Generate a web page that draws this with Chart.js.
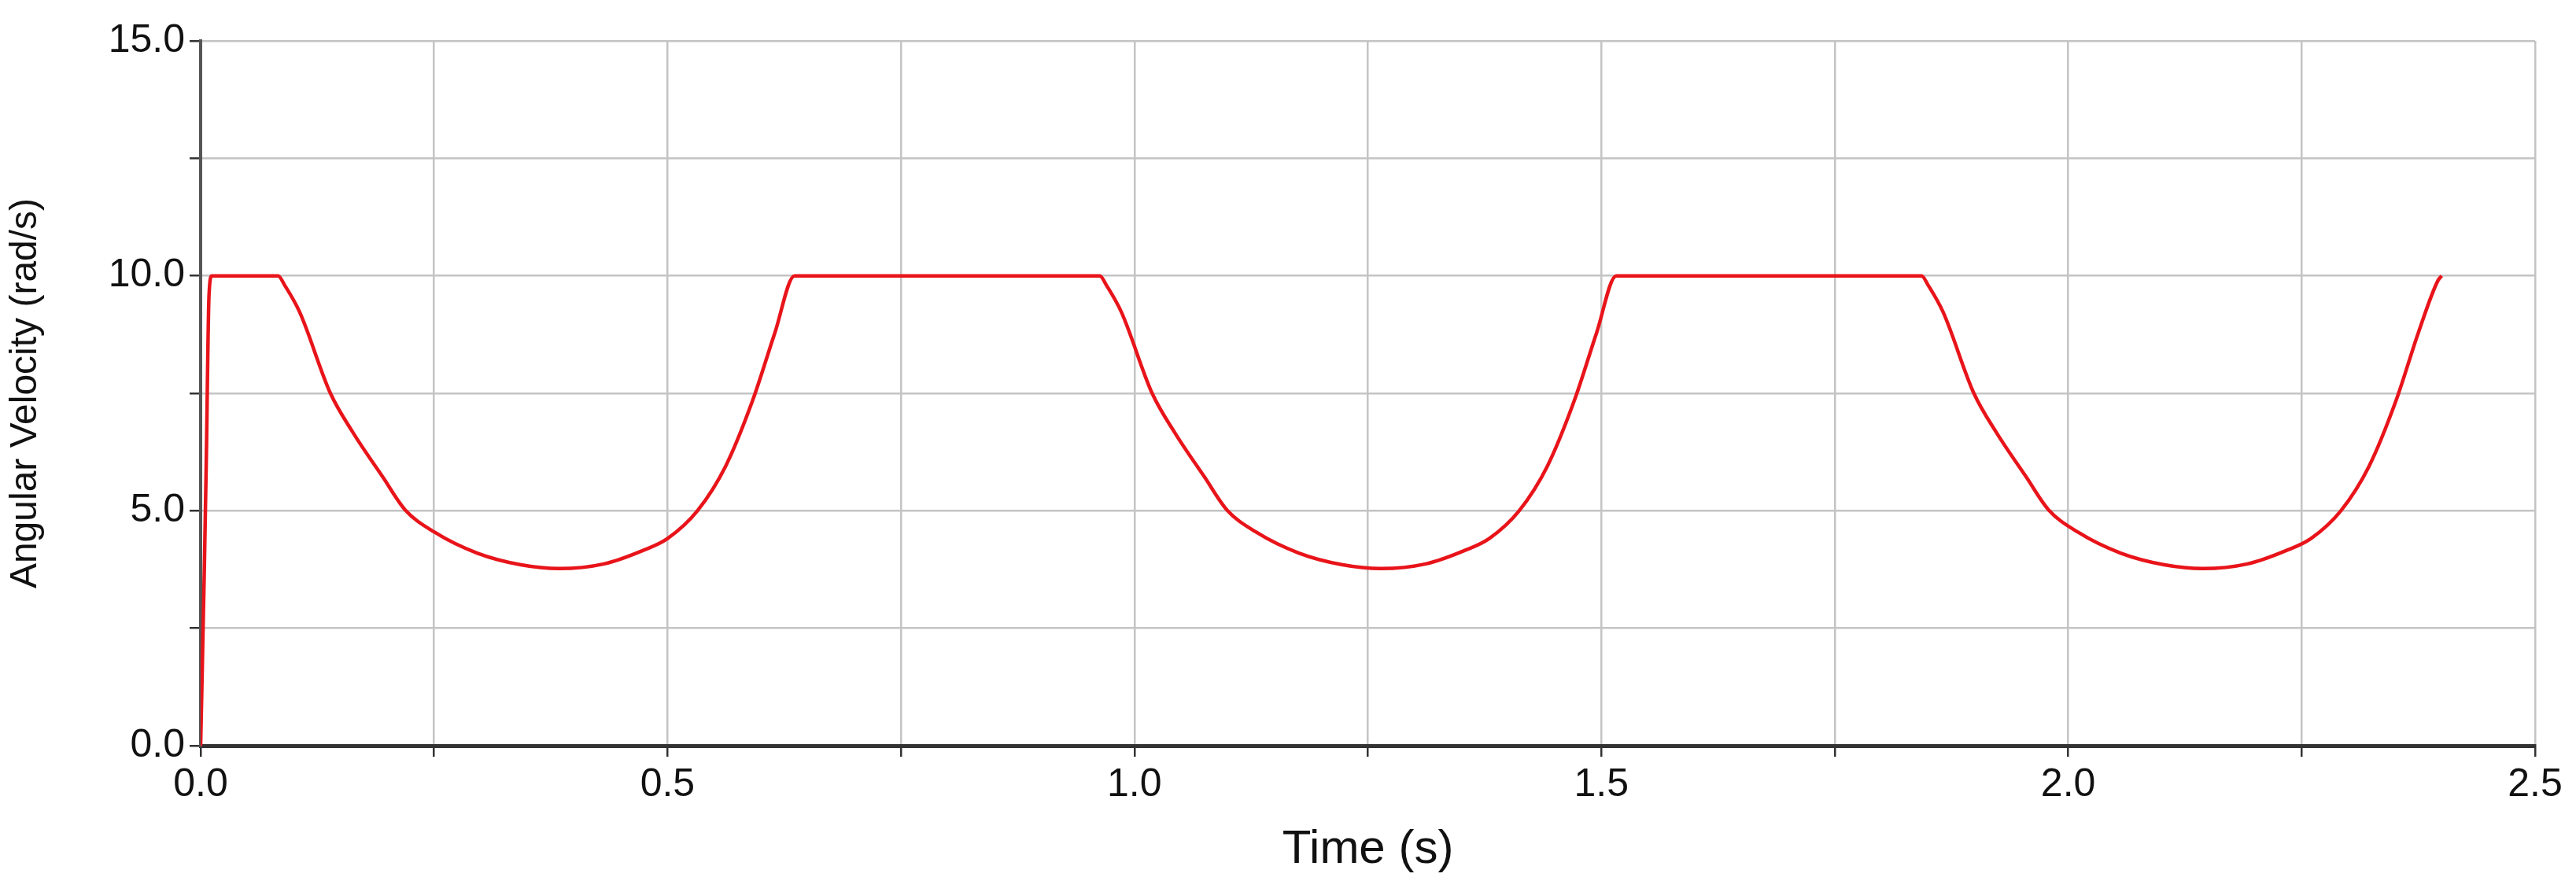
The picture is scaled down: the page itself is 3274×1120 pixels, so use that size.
<!DOCTYPE html>
<html><head><meta charset="utf-8">
<script src="https://cdn.jsdelivr.net/npm/chart.js@4"></script>
<style>html,body{margin:0;padding:0;background:#fff}#w{width:3274px;height:1120px}</style>
</head><body><div id="w"><canvas id="c"></canvas></div>
<script>
const times = [0,0.004,0.006,0.009,0.012,0.083,0.090,0.106,0.139,0.163,0.195,0.219,0.25,0.296,0.343,0.384,0.432,0.473,0.5,0.532,0.562,0.591,0.615,0.636,
0.963,0.970,0.986,1.019,1.043,1.075,1.099,1.13,1.176,1.223,1.264,1.312,1.353,1.38,1.412,1.442,1.471,1.495,1.516,
1.843,1.850,1.866,1.899,1.923,1.955,1.979,2.01,2.056,2.103,2.144,2.192,2.233,2.26,2.292,2.322,2.351,2.375,2.396,2.40];
const omega = [0,3.8,6.0,9.6,10,10,9.8,9.23,7.5,6.67,5.72,5.02,4.55,4.10,3.85,3.77,3.87,4.15,4.41,5.0,5.94,7.34,8.79,10,
10,9.8,9.23,7.5,6.67,5.72,5.02,4.55,4.10,3.85,3.77,3.87,4.15,4.41,5.0,5.94,7.34,8.79,10,
10,9.8,9.23,7.5,6.67,5.72,5.02,4.55,4.10,3.85,3.77,3.87,4.15,4.41,5.0,5.94,7.34,8.79,9.9,10];
const pts = times.map((t,i)=>({x:t,y:omega[i]}));
const F = "'Liberation Sans', Arial, sans-serif";
new Chart(document.getElementById('c'),{
 type:'scatter',
 data:{datasets:[{data:pts,showLine:true,borderColor:'#e8141a',borderWidth:4.5,pointRadius:0,cubicInterpolationMode:'monotone'}]},
 options:{responsive:true,maintainAspectRatio:false,animation:false,
  layout:{padding:{top:52,right:52,left:0,bottom:0}},
  plugins:{legend:{display:false},tooltip:{enabled:false}},
  scales:{
   x:{type:'linear',min:0,max:2.5,
    afterFit:s=>{s.height=172;},
    ticks:{stepSize:0.25,autoSkip:false,maxRotation:0,color:'#111',font:{family:F,size:50},padding:6,
      callback:v=>(Math.abs(v*2-Math.round(v*2))<1e-6)?v.toFixed(1):''},
    grid:{color:'#c4c4c4',lineWidth:2.5,tickLength:14,tickColor:'#333'},
    border:{color:'#333',width:5},
    title:{display:true,text:'Time (s)',color:'#111',font:{family:F,size:60},padding:{top:0}}},
   y:{min:0,max:15,
    afterFit:s=>{s.width=255;},
    ticks:{stepSize:2.5,autoSkip:false,color:'#111',font:{family:F,size:50},padding:6,
      callback:v=>(Math.abs(v/5-Math.round(v/5))<1e-6)?v.toFixed(1):''},
    grid:{color:'#c4c4c4',lineWidth:2.5,tickLength:14,tickColor:'#333'},
    border:{color:'#555',width:4},
    title:{display:true,text:'Angular Velocity (rad/s)',color:'#111',font:{family:F,size:48},padding:{bottom:2}}}
  }}
});
</script></body></html>
